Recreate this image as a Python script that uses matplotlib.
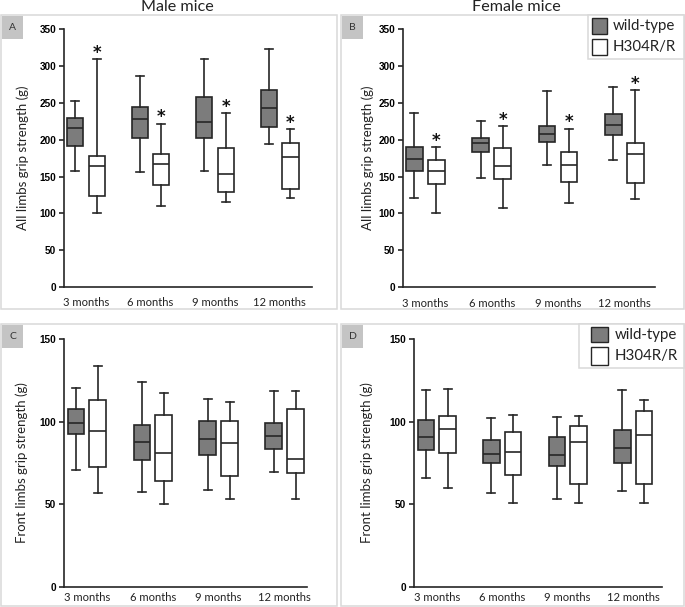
import numpy as np
import matplotlib.pyplot as plt
from matplotlib.patches import Rectangle

months = ["3 months", "6 months", "9 months", "12 months"]
genotypes = ["wild-type", "H304R/R"]

# box stats per month: (whisker low, Q1, median, Q3, whisker high)
male_all_wt = [(157, 191, 216, 230, 253), (156, 203, 228, 244, 286),
               (158, 203, 224, 258, 310), (194, 217, 243, 268, 323)]
male_all_mut = [(100, 124, 165, 178, 310), (110, 139, 167, 180, 222),
                (115, 129, 154, 189, 236), (121, 133, 176, 196, 214)]
female_all_wt = [(121, 158, 174, 190, 237), (148, 183, 195, 203, 225),
                 (166, 197, 208, 219, 266), (172, 207, 220, 235, 271)]
female_all_mut = [(100, 140, 158, 173, 190), (107, 147, 164, 189, 218),
                  (114, 142, 166, 184, 215), (120, 141, 180, 196, 267)]
male_front_wt = [(70.5, 92.4, 99.5, 107.5, 120.3), (57.6, 77, 88, 97.8, 124),
                 (58.6, 79.8, 89.5, 100.7, 113.8), (69.3, 83.7, 91.6, 99.5, 118.9)]
male_front_mut = [(57, 72.4, 94.6, 113.2, 134), (50, 64, 81.3, 104, 117.2),
                  (53, 67, 87.3, 100.7, 111.8), (53.4, 68.7, 77.4, 107.5, 118.9)]
female_front_wt = [(66, 83, 90.6, 101, 119.3), (57, 75.2, 80.6, 88.7, 102),
                   (53, 73.2, 79.7, 90.6, 102.7), (58.3, 75.2, 84, 95, 119)]
female_front_mut = [(59.6, 81, 95.4, 103.5, 119.7), (51, 67.7, 81.5, 93.8, 104.3),
                    (51, 62.3, 87.6, 97.5, 103.5), (50.7, 62.3, 92, 106.8, 113.3)]

# significance stars on the mutant boxes
male_all_sig = [1, 1, 1, 1]
female_all_sig = [1, 1, 1, 1]
male_front_sig = [0, 0, 0, 0]
female_front_sig = [0, 0, 0, 0]

W, H = 685, 607
fig = plt.figure(figsize=(W / 100, H / 100), dpi=100)

EDGE = "#262626"
WT_COL = "#7c7c7c"


def fig_rect(x0, y0, x1, y1, **kw):
    r = Rectangle((x0 / W, 1 - y1 / H), (x1 - x0) / W, (y1 - y0) / H,
                  transform=fig.transFigure, **kw)
    fig.add_artist(r)


def fig_text(x, y, s, **kw):
    fig.text(x / W, 1 - y / H, s, **kw)


def draw_panel(rect, wt, mut, sig, ymax, ystep, xlim, ylabel, xpad):
    ax = fig.add_axes(rect)
    pos = np.arange(len(months))
    for stats, off, col in ((wt, -0.166, WT_COL), (mut, 0.166, "white")):
        bs = [dict(whislo=s[0], q1=s[1], med=s[2], q3=s[3], whishi=s[4], fliers=[])
              for s in stats]
        ax.bxp(bs, positions=pos + off, widths=0.25, capwidths=0.12,
               showfliers=False, patch_artist=True, manage_ticks=False,
               boxprops=dict(facecolor=col, edgecolor=EDGE, linewidth=1.2),
               medianprops=dict(color=EDGE, linewidth=1.2),
               whiskerprops=dict(color=EDGE, linewidth=1.2),
               capprops=dict(color=EDGE, linewidth=1.2))
    for i, s in enumerate(sig):
        if s:
            ax.annotate("*", xy=(pos[i] + 0.166, mut[i][4]), xytext=(0, 4.5),
                        textcoords="offset points", ha="center", va="center",
                        fontsize=12, fontweight="bold", color="#111111")
    ax.set_xlim(*xlim)
    ax.set_ylim(0, ymax)
    ax.set_yticks(np.arange(0, ymax + 1, ystep))
    ax.set_xticks(pos)
    ax.set_xticklabels(months, fontfamily="Lato", fontsize=8.1, color="#222222")
    for lbl in ax.get_yticklabels():
        lbl.set_fontweight("bold")
        lbl.set_fontfamily("Liberation Sans")
        lbl.set_fontsize(7.2)
    ax.tick_params(axis="x", length=0, pad=xpad)
    ax.tick_params(axis="y", length=3.5, width=1.2, pad=2, color=EDGE)
    for side in ("top", "right"):
        ax.spines[side].set_visible(False)
    for side in ("left", "bottom"):
        ax.spines[side].set_linewidth(1.2)
        ax.spines[side].set_color(EDGE)
    ax.set_ylabel(ylabel, fontfamily="Lato", fontsize=9.5, color="#222222")
    return ax


# panel frames and letter boxes
for x0, y0, x1, y1, letter in ((1, 15, 337, 309, "A"), (341, 15, 684, 309, "B"),
                               (1, 324, 337, 606, "C"), (341, 324, 684, 606, "D")):
    fig_rect(x0, y0, x1, y1, facecolor="none", edgecolor="#d9d9d9", linewidth=1.1)
    fig_rect(x0 + 1, y0 + 1, x0 + 22, y0 + 24, facecolor="#c4c4c4", edgecolor="none")
    fig_text(x0 + 11.5, y0 + 12.5, letter, ha="center", va="center",
             fontsize=7.5, color="#333333", fontfamily="Lato")

fig_text(177, 7, "Male mice", ha="center", va="center", fontsize=11.6,
         fontfamily="Lato", color="#222222")
fig_text(516, 7, "Female mice", ha="center", va="center", fontsize=11.6,
         fontfamily="Lato", color="#222222")

axA = draw_panel([64 / W, 1 - 287 / H, 248 / W, 257.7 / H], male_all_wt, male_all_mut,
                 male_all_sig, 350, 50, (-0.34, 3.5), "All limbs grip strength (g)", 7)
axB = draw_panel([403 / W, 1 - 287 / H, 252 / W, 257.7 / H], female_all_wt, female_all_mut,
                 female_all_sig, 350, 50, (-0.336, 3.46), "All limbs grip strength (g)", 8)
axC = draw_panel([64 / W, 1 - 586.7 / H, 243 / W, 247.4 / H], male_front_wt, male_front_mut,
                 male_front_sig, 150, 50, (-0.345, 3.34), "Front limbs grip strength (g)", 3.5)
axD = draw_panel([414 / W, 1 - 586.7 / H, 248 / W, 247.4 / H], female_front_wt, female_front_mut,
                 female_front_sig, 150, 50, (-0.347, 3.44), "Front limbs grip strength (g)", 4)

axA.yaxis.set_label_coords(-0.165, 0.5)
axB.yaxis.set_label_coords(-0.139, 0.5)
axC.yaxis.set_label_coords(-0.174, 0.5)
axD.yaxis.set_label_coords(-0.19, 0.5)
for ax in (axA, axB, axC, axD):
    ax.yaxis.label.set_verticalalignment("center")


def draw_legend(x0, y0, x1, y1, sx0, sx1, rows, tx):
    fig_rect(x0, y0, x1, y1, facecolor="white", edgecolor="#d9d9d9", linewidth=1.1)
    for (ry0, ry1), col, name in zip(rows, (WT_COL, "white"), genotypes):
        fig_rect(sx0, ry0, sx1, ry1, facecolor=col, edgecolor=EDGE, linewidth=1.0)
        fig_text(tx, (ry0 + ry1) / 2, name, ha="left", va="center", fontsize=10.8,
                 fontfamily="Lato", color="#222222")


draw_legend(588, 15, 684, 59, 592, 607, ((18.5, 34), (39.5, 55)), 613)
draw_legend(579, 324, 684, 368, 591, 608, ((327, 342), (347, 365)), 615)

fig.savefig("out.png", dpi=100)
